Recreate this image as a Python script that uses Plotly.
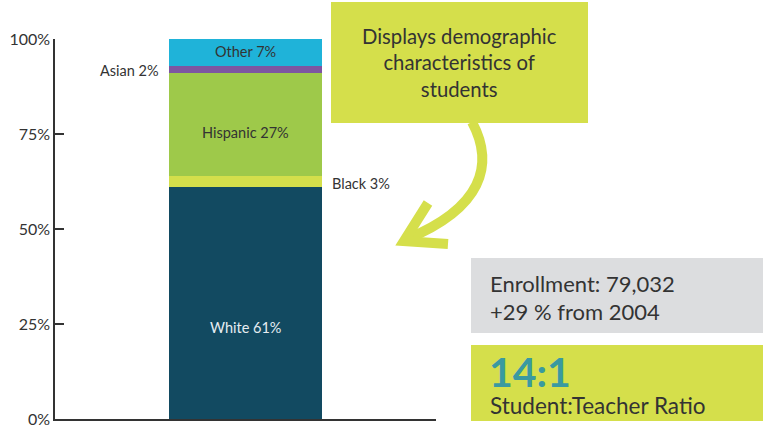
import plotly.graph_objects as go

# Data
category = ["Students"]
groups = ["White", "Black", "Hispanic", "Asian", "Other"]
shares = [61, 3, 27, 2, 7]
tick_vals = [0, 25, 50, 75, 100]
tick_text = ["0%", "25%", "50%", "75%", "100%"]

# Styling
colors = ["#124a61", "#d4df4b", "#9ec94a", "#7d55a1", "#1fb3d9"]
text_colors = ["#e6edf1", "#333333", "#333333", "#333333", "#333333"]
label_side = ["inside", "right", "inside", "left", "inside"]
label_shift = [-6.3, -0.4, -2.0, -0.4, 0.3]  # offset from segment middle, in axis units

FONT = "Source Sans Pro, Lato, sans-serif"
W, H = 763, 430
L, R, T, B = 55, 327, 39, 11
PW, PH = W - L - R, H - T - B

def px(x):
    return (x - L) / PW

def py(y):
    return (H - B - y) / PH

fig = go.Figure()
for g, v, c in zip(groups, shares, colors):
    fig.add_trace(go.Bar(
        x=category, y=[v], name=g, marker=dict(color=c, line=dict(width=0)),
        width=0.4, hoverinfo="skip",
    ))

annotations = []
cum = 0
for g, v, tc, side, sh in zip(groups, shares, text_colors, label_side, label_shift):
    mid = cum + v / 2
    cum += v
    label = f"{g} {v}%"
    if side == "inside":
        annotations.append(dict(x=category[0], xref="x", y=mid + sh, yref="y",
                                text=label, showarrow=False, xanchor="center", yanchor="middle",
                                font=dict(size=14.5, color=tc, family=FONT)))
    elif side == "left":
        annotations.append(dict(x=px(161), xref="paper", y=mid + sh, yref="y",
                                text=label, showarrow=False, xanchor="right", yanchor="middle",
                                font=dict(size=14.5, color=tc, family=FONT)))
    else:
        annotations.append(dict(x=px(330), xref="paper", y=mid + sh, yref="y",
                                text=label, showarrow=False, xanchor="left", yanchor="middle",
                                font=dict(size=14.5, color=tc, family=FONT)))

shapes = [
    dict(type="rect", xref="paper", yref="paper", x0=px(331), x1=px(588), y0=py(123), y1=py(2),
         fillcolor="#d5df4b", line=dict(width=0), layer="below"),
    dict(type="rect", xref="paper", yref="paper", x0=px(471), x1=px(763), y0=py(333), y1=py(258),
         fillcolor="#dcdddf", line=dict(width=0), layer="below"),
    dict(type="rect", xref="paper", yref="paper", x0=px(471), x1=px(763), y0=py(421), y1=py(345),
         fillcolor="#d5df4b", line=dict(width=0), layer="below"),
]

def P(x, y):
    return f"{px(x):.5f},{py(y):.5f}"

curve = f"M {P(472,122)} C {P(495,165)} {P(482,208)} {P(407,239)}"
head = f"M {P(428,203)} L {P(404,241)} L {P(448,244)}"
for path in (curve, head):
    shapes.append(dict(type="path", xref="paper", yref="paper", path=path,
                       line=dict(color="#d5df4b", width=10), layer="above"))

def ann(x, y, text, size, color="#333333", xanchor="left", align="left"):
    return dict(x=px(x), y=py(y), xref="paper", yref="paper", showarrow=False,
                xanchor=xanchor, yanchor="middle", align=align, text=text,
                font=dict(size=size, color=color, family=FONT))

annotations += [
    ann(459, 63, "Displays demographic<br>characteristics of<br>students", 20.3,
        xanchor="center", align="center"),
    ann(488, 283, "Enrollment: 79,032", 22),
    ann(488, 311, "+29 % from 2004", 22),
    ann(487, 371, "<b>14:1</b>", 41, color="#3a9aa0"),
    ann(488, 405, "Student:Teacher Ratio", 22.5),
]

fig.update_layout(
    barmode="stack", width=W, height=H,
    margin=dict(l=L, r=R, t=T, b=B, pad=0, autoexpand=False),
    plot_bgcolor="white", paper_bgcolor="white", showlegend=False,
    font=dict(family=FONT, color="#333333"),
    xaxis=dict(range=[-0.5, 0.5], showticklabels=False, ticks="", showgrid=False, automargin=False,
               zeroline=False, showline=True, linecolor="#333333", linewidth=1.5, fixedrange=True),
    yaxis=dict(range=[0, 100], tickvals=tick_vals, ticktext=tick_text, ticks="inside", automargin=False,
               ticklen=9, tickcolor="#333333", tickwidth=1.5, showgrid=False, zeroline=False,
               showline=True, linecolor="#333333", linewidth=1.5, fixedrange=True,
               tickfont=dict(size=16, color="#333333", family=FONT)),
    annotations=annotations, shapes=shapes,
)
fig.write_html("out.html", config={"displayModeBar": False},
               post_script="document.body.style.margin='0px';document.body.style.overflow='hidden';")
